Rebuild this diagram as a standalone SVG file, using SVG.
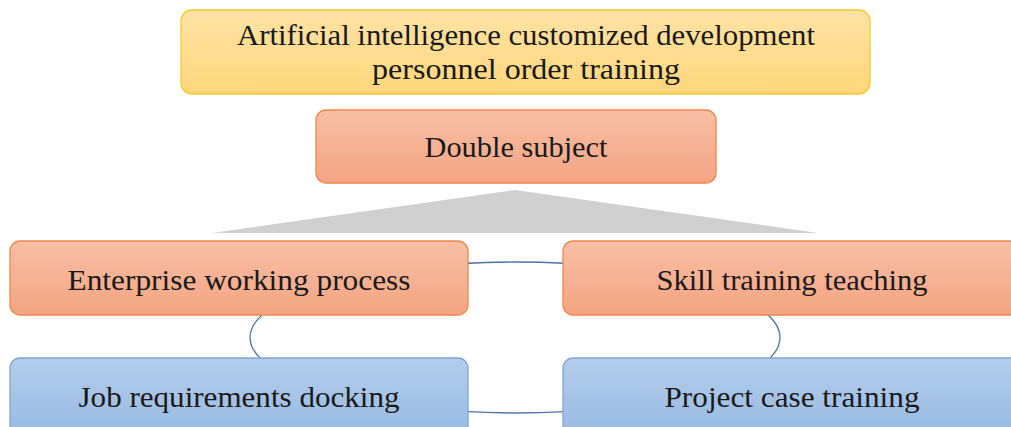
<svg xmlns="http://www.w3.org/2000/svg" width="1011" height="427" viewBox="0 0 1011 427">
  <defs>
    <linearGradient id="gYellow" x1="0" y1="0" x2="0" y2="1">
      <stop offset="0" stop-color="#FFE3A6"/>
      <stop offset="1" stop-color="#FFD67A"/>
    </linearGradient>
    <linearGradient id="gOrange" x1="0" y1="0" x2="0" y2="1">
      <stop offset="0" stop-color="#F7BFA6"/>
      <stop offset="1" stop-color="#F4A482"/>
    </linearGradient>
    <linearGradient id="gBlue" x1="0" y1="0" x2="0" y2="1">
      <stop offset="0" stop-color="#B4CCEA"/>
      <stop offset="1" stop-color="#98BAE3"/>
    </linearGradient>
  </defs>
  <style>
    .yellow { fill: url(#gYellow); stroke: #FFC728; stroke-width: 1.3; }
    .orange { fill: url(#gOrange); stroke: #F0884A; stroke-width: 1.3; }
    .blue { fill: url(#gBlue); stroke: #7FA6D6; stroke-width: 1.3; }
    .label { font-family: "Liberation Serif", "DejaVu Serif", serif; font-size: 29px; fill: #1a1a1a; text-anchor: middle; }
    .link { fill: none; stroke: #4D72AA; stroke-width: 1.3; }
  </style>

  <!-- cycle connecting the four bottom boxes -->
  <g id="connectors">
    <ellipse class="link" cx="515" cy="337.5" rx="265" ry="75.5"/>
  </g>

  <!-- grey wedge under the centre box -->
  <polygon points="515,190 818,233 212,233" fill="#D0D0D0"/>

  <g id="goal">
    <rect class="yellow" x="181" y="10" width="689" height="84" rx="11"/>
    <text class="label" x="526" y="45" textLength="578" lengthAdjust="spacingAndGlyphs">Artificial intelligence customized development</text>
    <text class="label" x="526" y="79" textLength="308" lengthAdjust="spacingAndGlyphs">personnel order training</text>
  </g>

  <g id="double-subject">
    <rect class="orange" x="316" y="110" width="400" height="73" rx="10"/>
    <text class="label" x="516" y="157" textLength="183" lengthAdjust="spacingAndGlyphs">Double subject</text>
  </g>

  <g id="enterprise">
    <rect class="orange" x="10" y="241" width="458" height="74" rx="10"/>
    <text class="label" x="239" y="290" textLength="343" lengthAdjust="spacingAndGlyphs">Enterprise working process</text>
  </g>

  <g id="skill">
    <rect class="orange" x="563" y="241" width="458" height="74" rx="10"/>
    <text class="label" x="792" y="290" textLength="271" lengthAdjust="spacingAndGlyphs">Skill training teaching</text>
  </g>

  <g id="job">
    <rect class="blue" x="10" y="358" width="458" height="80" rx="10"/>
    <text class="label" x="239" y="407" textLength="321" lengthAdjust="spacingAndGlyphs">Job requirements docking</text>
  </g>

  <g id="project">
    <rect class="blue" x="563" y="358" width="458" height="80" rx="10"/>
    <text class="label" x="792" y="407" textLength="255" lengthAdjust="spacingAndGlyphs">Project case training</text>
  </g>
</svg>
